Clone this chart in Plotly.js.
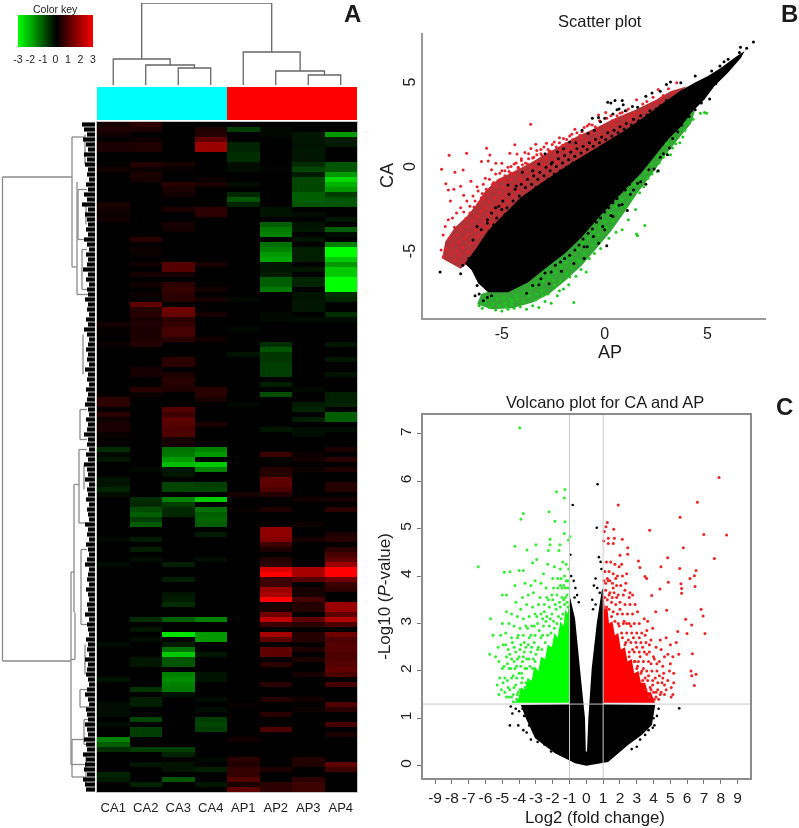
<!DOCTYPE html>
<html><head><meta charset="utf-8">
<script src="https://cdn.plot.ly/plotly-3.0.1.min.js"></script>
<style>html,body{margin:0;background:#fff}#chart{width:799px;height:828px;filter:blur(.45px)}</style>
</head><body><div id="chart"></div>
<script>
// ---- Panel A: heat map values, given as row,value pairs (rows not listed are 0)
const samples=['CA1','CA2','CA3','CA4','AP1','AP2','AP3','AP4'];
const rowCount=134;
const ca1=[0,.5,1,.7,2,.4,3,.1,4,.6,5,.6,6,.1,9,.4,16,.6,17,.4,18,.3,19,.4,40,.4,41,.1,42,.1,44,.3,55,1,56,1,57,.1,58,.9,59,.3,60,.6,61,.6,62,.2,63,.1,64,.1,65,-1,66,-.2,67,-.5,71,-.4,72,-.4,73,-.8,74,-.3,83,-.2,88,-.3,104,-.3,111,-.4,116,-.3,117,-.3,118,-.3,120,-.3,123,-2,124,-1.6,125,-1,130,-.8,131,-.6];
const ca2=[0,1,1,.7,3,.3,4,.7,5,.7,8,.8,9,.3,10,.6,11,.5,23,.9,25,.3,26,.2,28,.4,30,.5,32,.4,34,.3,36,1.6,37,.8,38,.8,39,.6,40,.7,41,.6,42,.6,43,.7,44,.8,49,.5,50,.5,53,.9,54,.3,69,-.2,75,-1,76,-.9,77,-1.4,78,-1.6,79,-1.2,80,-1.6,83,-.6,85,-.7,87,-.3,99,-1,101,-.5,103,-.3,107,-.5,108,-.5,113,-1.1,115,-.7,116,-.7,119,-1.3,121,-1.2,122,-1.2,125,-1.2,128,-.5,132,-.8];
const ca3=[8,.5,9,.2,12,.9,13,.6,14,.4,17,.6,20,.5,21,.4,28,1.5,29,1.5,30,.5,32,1,33,1.1,34,1,35,.9,37,1.8,38,1.7,39,1,40,1.1,41,1.3,42,1.3,43,.9,47,1,48,1,50,.6,51,.9,52,.8,53,.7,57,1.5,58,1.2,59,1.6,60,1.5,61,1.4,62,1.4,63,.5,64,.5,65,-1.8,66,-1.9,67,-2.2,68,-2.5,69,-.5,70,-.5,72,-1.3,73,-1.3,75,-2,76,-1.2,77,-.9,78,-.9,88,-.7,91,-.7,94,-.5,95,-.6,96,-1,99,-1.6,102,-2.8,104,-.6,105,-1.8,106,-2.6,107,-1.5,108,-1.5,110,-2,111,-2.1,112,-2,113,-1.9,114,-.4,125,-1.2,126,-.8,128,-.4,129,-.4,131,-1.5];
const ca4=[1,.7,2,.8,3,1.6,4,2.2,5,2.2,11,.3,12,.6,17,1,18,1,28,.5,33,.4,35,.5,38,.5,43,.4,53,.9,54,.9,55,.5,60,.6,65,-2,66,-2.2,68,-2.6,69,-2,72,-1.2,73,-1.3,75,-2.6,77,-1.8,78,-1.6,79,-1.7,80,-1.6,82,-.6,87,-.3,99,-2,102,-2.2,103,-2.2,106,-.5,110,-.4,111,-.4,115,-.3,117,-.3,119,-1.2,120,-1.3,121,-1.2,127,-.2,129,-.7,132,-.5];
const ap1=[1,-1.2,4,-.8,5,-.8,6,-1,7,-1,8,-.3,9,-.3,12,-.3,14,-.9,15,-1.5,16,-.8,35,-.2,41,-.2,46,-.4,56,-.2,74,.5,77,.2,116,.2,123,.4,127,1,128,.7,129,1.1,130,1.1,131,1.5,132,.6,133,1.6];
const ap2=[1,-.2,2,-.2,9,-.1,17,-.4,18,-.4,20,-1.6,21,-1.9,22,-2,24,-1.8,25,-2,26,-2.2,27,-2.3,28,-.5,29,-.5,30,-.6,31,-1.6,32,-1.6,33,-1.9,38,-.2,39,-.2,44,-1,45,-1.5,46,-1.1,47,-1.1,48,-1.2,49,-1.2,50,-1.2,52,-.7,54,-1.4,61,-.5,66,1.2,69,.8,70,.8,71,1.6,72,1.6,73,1.4,74,.8,77,.7,81,2.1,82,2.1,83,2,84,1.2,85,.6,87,.8,88,1,89,2.7,90,3,91,1.2,92,1.2,93,2.2,94,2.3,95,3,96,.5,97,.5,98,1.8,99,2.5,100,1.2,102,2.3,103,1.6,105,1.6,106,1.6,108,1,112,.9,115,.8,118,.9,121,1.4,129,.7,132,1,133,1];
const ap3=[2,-.5,3,-.5,4,-.4,5,-.5,6,-.5,7,-.5,8,-1,9,-1.3,10,-.6,11,-1.3,12,-1.3,13,-1.3,14,-1.6,15,-1.6,16,-1.5,18,-.3,20,-.4,21,-.5,23,-.4,25,-.7,26,-.7,27,-.7,29,-.5,31,-.8,32,-.8,34,-.4,35,-.4,36,-.5,37,-.5,39,-.3,53,-.2,56,-.6,57,-.8,59,-.7,61,-.3,62,-.3,66,.3,67,.4,69,.3,75,.4,80,.3,83,.5,89,2.3,90,2.3,91,1.5,93,.5,94,.5,95,1.3,96,.8,97,.8,99,1.6,100,1,102,.8,103,.8,105,.7,107,.6,110,.5,115,.4,117,.3,127,.8,128,.7,131,1,132,1.2,133,1.2];
const ap4=[2,-2.2,3,-.6,4,-.6,8,-1.5,9,-1.5,10,-2.2,11,-2.7,12,-2.4,13,-2.2,14,-1.2,15,-1.5,16,-1.5,19,-.5,21,-1.6,22,-.3,24,-2,25,-3,26,-3,27,-2.6,28,-2.2,29,-2.6,30,-2.6,31,-3,32,-3,33,-3,34,-1,35,-.8,38,-1,39,-.3,44,-.5,47,-.5,50,-.4,54,-.7,55,-.7,56,-.8,58,-1.6,59,-1.6,61,-.3,65,.6,67,.9,69,.7,72,.8,73,.8,75,.5,77,1,82,.7,83,.9,85,1,86,1.3,87,1.6,88,2.2,89,3,90,3,91,1.8,92,1.2,93,1,96,2.2,97,2.2,98,1.6,99,2.4,100,1.4,102,1.8,103,1.4,104,1.5,105,1.5,106,1.4,107,1.4,108,1.5,109,1.6,110,1.4,112,1.3,116,1.4,117,.9,120,1.3,122,.6,128,1.6,129,1.2];
const heatColumns=[ca1,ca2,ca3,ca4,ap1,ap2,ap3,ap4];
const keyLevels=[-3,-2.5,-2,-1.5,-1,-.5,0,.5,1,1.5,2,2.5,3];
const keyTicks=[-3,-2,-1,0,1,2,3];
const groupCodes=[0,0,0,0,1,1,1,1];
const colMerges=[[2,3,17,0,0],[1,2.5,20,0,17],[0,1.75,26,0,20],[6,7,10,0,0],[5,6.5,14,0,10],[4,5.75,33,0,14],[.875,4.875,82,26,33]];
const rowVerticals=[[92.5,10.5,107.3],[23,2.5,28.5],[18,11.5,34],[24,89.5,128],[20,97.7,107],[21,72,97.5],[16,65,79.7],[14,85,100],[15,113,116.5],[23,123,130.5],[17,13,23],[15,57,63],[13,25,33],[10,2,8],[9,16,20],[12,42,50],[11,68,73],[10,104,110],[11,119,124],[9,126,132]];
const rowHorizontals=[[10.5,92.5,23],[107.3,92.5,24],[2.5,23,10],[28.5,23,18],[34,18,5],[89.5,24,21],[97.5,21,20],[107,24,20],[128,24,9],[72,21,16],[65,16,8],[79.7,16,8],[85,14,8],[100,14,8],[57,15,8],[63,15,8],[13,17,8],[23,17,8],[25,13,8],[33,13,8],[113,15,6],[116.5,15,6],[123,23,11],[130.5,23,9],[119,11,6],[124,11,6]];
const leafReach=[13,11,8,12,9,7,11,8,10,7,8,6,9,7,11,8,13,7,10,8,7,9,7,11,8,6,9,7,8,12,7,9,6,8,7,10,7,8,6,9,7,11,8,6,7,9,7,8,6,10,7,8,6,9,7,8,10,7,6,9,7,8,11,7,8,6,9,7,11,8,7,10,6,8,7,9,6,8,7,6,10,7,8,6,9,7,6,8,10,6,7,8,6,9,7,6,8,7,10,6,8,7,6,9,7,8,6,10,7,8,9,7,6,8,10,7,6,9,8,7,10,8,7,11,9,8,12,9,10,11,8,12,10,9];

// ---- Panel B: scatter plot
const cloudX=[-6.8,-6.3,-5.7,-4.9,-4.1,-3.3,-2.5,-1.7,-.87,0,1,2,2.9,3.7,4.37,5.02,5.66,6.31,6.8,6.63,5.99,5.34,4.85,4.21,3.72,3.07,2.43,1.78,1.13,.49,-.16,-1.13,-1.94,-2.75,-3.72,-4.69,-5.66,-6.15,-6.47];
const cloudY=[-5.6,-4.8,-3.7,-2.7,-1.7,-1,-.35,.3,.9,1.55,2.3,3.15,3.95,4.65,5.11,5.5,6,6.59,6.99,6.59,5.7,4.91,4.12,3.33,2.53,1.74,.75,-.24,-1.03,-1.85,-2.7,-4.05,-5,-5.75,-6.7,-7.3,-7.3,-6.77,-5.98];
const redBandX=[-7.9,-7.75,-7.3,-6.7,-6.3,-5.8,-5.2,-4.5,-3.7,-3,-2.2,-1.4,-.5,.5,1.5,2.5,3.2,4,-6.6,-7];
const redBandY=[-5.3,-4.3,-3.5,-2.8,-2.2,-1.3,-.6,-.2,.3,.8,1.35,1.9,2.4,3,3.5,4.1,4.6,4.9,-5.5,-5.9];
const greenBandX=[-6.2,-5.5,-4.5,-3.5,-2.7,-1.9,-1.1,-.4,.3,1,1.6,2.3,3,3.6,4.2,4.4,3,-5,-6];
const greenBandY=[-8,-8.3,-8.25,-7.9,-7.4,-6.6,-5.7,-4.7,-3.7,-2.5,-1.4,-.3,.9,1.8,2.7,3.5,2.5,-7,-7.4];
const scatterRed=[-7.56,.81,-6.71,.93,-5.74,1.23,-5.58,.83,-4.37,1.44,-7.93,-.02,-7.28,-.2,-6.88,-.06,-5.99,.44,-5.66,.48,-5.29,.34,-5,.34,-4.61,.93,-4.26,.89,-3.88,.97,-3.59,1.22,-3.35,1.46,-2.83,1.52,-3.6,2.65,-7.72,-.88,-7.33,-1.2,-7.6,-1.25,-7,-1.02,-6.5,-.72,-6.85,-1.55,-7.5,-1.9,-6.2,-1.05,-5.8,-.55,-5.95,-1.45,-5.5,-.05,-5.1,-.25,-4.85,-.1,-4.55,.15,-4.3,.35,-4.05,.5,-3.7,.6,-3.3,.85,-3.1,1.15,-2.7,1,-2.45,1.6,-2.2,1.85,-2.05,1.4,-1.7,1.95,-1.45,2.35,-1.2,2,-1,2.45,-.75,2.65,-.45,2.5,-.3,3.2,.05,3.35,.35,2.85,.6,3.15,.85,3.35,1.15,3.55,1.3,3.15,1.55,4.1,1.85,3.85,2.05,4,2.35,4.25,2.6,4.7,3.1,4.75,3.5,5.1,3.3,4.55,2.85,4.35,
-7.85,-5.2,-7.7,-4.75,-7.55,-4.1,-7.45,-5,-7.4,-4.5,-7.3,-3.45,-7.25,-5.4,-7.2,-4.85,-7.15,-3.9,-7.1,-4.3,-7.05,-5.1,-6.95,-3.55,-6.9,-4.65,-6.85,-5.6,-6.8,-4.1,-6.75,-2.95,-6.7,-3.4,-6.65,-4.9,-6.6,-3.85,-6.55,-2.6,-6.5,-4.4,-6.45,-3.1,-6.4,-5.2,-6.35,-2.25,-6.3,-3.6,-6.25,-4.7,-6.2,-2.8,-6.15,-4,-6.1,-2,-6.05,-3.3,-6,-2.5,-5.95,-3.75,-5.9,-1.8,-5.85,-3,-5.8,-2.3,-5.75,-3.45,-5.7,-1.5,-5.65,-2.7,-5.6,-1.95,-5.55,-3.15,-5.5,-1.2,-5.45,-2.4,-5.4,-.8,-5.35,-1.7,-5.3,-2.85,-5.25,-1,-5.2,-2.1,-5.15,-1.4,-5.1,-2.6,-5.05,-.6,-5,-1.75,-4.95,-1.1,-4.9,-2.2,-4.85,-.4,-4.8,-1.45,-4.75,-.85,-4.7,-1.9,-4.65,-.15,-4.6,-1.2,-4.55,-.6,-4.5,-1.6,-4.4,-.3,-4.35,-.95,-4.25,-1.3,-4.2,.05,-4.1,-.6,-4,.25,-3.95,-.85,-3.85,-.2,-3.75,.3,-3.65,-.5,-3.55,.1,-3.45,.7,-3.35,-.25,-3.25,.4,-3.15,.05,-3.05,.8,-2.95,.3,-2.85,.6,-2.75,.1,-2.65,1.05,-2.55,.55,-2.4,.9,-2.3,.4,-2.15,1.15,-2,.8,-1.9,1.5,-1.8,1.05,-1.65,1.3,-1.55,1.75,-1.4,1.1,-1.3,1.6,-1.15,1.85,-1.05,1.4,-.9,1.75,-.7,2.1,-.55,1.7,-.35,2.3,-.2,2,0,2.55,.2,2.35,.4,2.6,.6,2.9,.8,2.6,1,3.1,1.25,2.95,1.45,3.3,1.7,3.3,1.95,3.5,2.2,3.75,2.5,3.95,2.75,4.2,
-7.95,-4.8,-7.85,-3.9,-7.75,-3.4,-7.6,-3,-7.4,-2.9,-7.2,-2.6,-7,-2.3,-6.85,-2.55,-6.7,-1.9,-6.55,-2.2,-6.4,-1.6,-6.3,-1.9,-6.15,-1.3,-6,-1.7,-5.9,-.9,-5.75,-1.2,-5.6,-.6,-5.45,-.9,-5.3,-.3,-5.15,-.7,-5,-.1,-4.85,-.6,-4.7,.1,-4.55,-.25,-4.4,.3,-4.2,.1,-4.05,.6,-3.85,.35,-3.7,.9,-3.5,.65,-3.3,1.1,-3.1,.9,-2.95,1.3,-2.75,1.15,-2.55,1.45,-2.35,1.3,-2.2,1.55,-2,1.8,-1.85,1.75,-1.6,2.05,-1.35,2.15,-1.1,2.2,-.85,2.55,-.6,2.6,-.25,2.85,.1,3,.3,3.15,.75,3.3,1.05,3.45];
const scatterGreen=[-6.1,-8.1,-5.95,-8.25,-5.8,-7.9,-5.6,-8.2,-5.45,-8,-5.3,-8.35,-5.1,-8.1,-5,-8.4,-4.85,-7.95,-4.7,-8.3,-4.55,-8,-4.4,-8.25,-4.25,-7.7,-4.1,-8.15,-3.95,-7.85,-3.8,-8.3,-3.65,-7.5,-3.5,-8.1,-3.35,-7.75,-3.2,-8.2,-3.05,-7.2,-2.9,-7.85,-2.75,-7.4,-2.6,-7.95,-2.45,-6.9,-2.3,-7.5,-2.15,-6.6,-2,-7.1,-1.85,-6.2,-1.75,-6.85,-1.6,-5.85,-1.5,-7.9,-1.4,-6.35,-1.3,-5.4,-1.15,-5.95,-1,-5,-.9,-6.1,-.75,-5.3,-.6,-4.5,-.5,-5,-.3,-3.9,-.2,-4.7,.1,-3.5,.2,-4.1,.4,-3.1,.55,-3.75,.7,-2.6,.85,-3.6,1,-2.2,1.15,-3,1.3,-1.75,1.55,-3.85,1.6,-3.95,1.95,-3.35,1.5,-2.4,1.7,-1.4,1.9,-1.05,2.1,-.55,2.3,-.3,2.55,-.15,2.65,.35,2.85,.7,3,.95,3.2,.85,3.05,1.5,3.3,1.25,3.45,1.5,3.65,1.55,3.8,1.9,3.9,2.3,4.05,2.75,4.3,2.95,4.65,3.3,4.85,3.35,4.95,3.3,
-5.5,-7.6,-5.2,-7.7,-4.9,-7.6,-4.6,-7.7,-4.3,-7.5,-3.9,-7.3,-3.6,-7.05,-3.3,-6.8,-3,-6.65,-2.7,-6.4,-2.4,-6.1,-2.1,-5.8,-1.9,-5.55,-1.6,-5.25,-1.3,-4.75,-1.05,-4.4,-.8,-4.1,-.55,-3.7,-.25,-3.4,0,-3.1,.3,-2.6,.55,-2.2,.85,-1.8,1.15,-1.4,1.45,-.9,1.7,-.55,2,-.2,2.3,.3,2.6,.75,-4.8,-8.15,-4.5,-7.85,-3.3,-7.4,-3,-7.5,-2.2,-7.2,-2.5,-6.6,-1.7,-6.4,-1.2,-5.5,-.4,-4.35];
const scatterBlack=[-8,-6.1,-7,-6.2,-6.9,-5.7,-6.6,-5.3,-6.3,-6.1,-6.2,-6.9,-6.3,-7.5,-6.1,-7.4,-5.9,-7.8,-5.7,-7.6,-5.5,-7.5,-6,-6.5,-6.45,-5.85,-6.2,-3.4,-5.7,-3,-5.3,-2.3,-5,-2.4,-4.7,-.95,-4.3,-1,-4,-.2,-3.5,-.1,-3.2,.3,-2.9,.9,-2.6,.3,-2.3,1,-2,1.2,-1.7,1.6,-1.4,1.55,-1.1,2.3,-.8,2.1,-.5,2.3,-.6,3,-.3,3.05,0,3,.15,3.95,.3,3.9,.5,4.05,.6,3.5,.7,3.55,.85,4.05,.9,3.8,.4,3.25,-.2,2.8,1,3.45,1.35,3.7,1.6,3.65,2,4.3,2.3,4.5,2.7,4.6,3,5,3.2,5.15,3.7,5.1,4.4,5.5,4.8,5.2,5.2,5.8,5.4,5.05,5.5,5.6,5,4.85,5.1,4.15,4.8,4.4,4.3,4.3,5.6,6.1,5.8,6.35,6,6.5,6.55,6.9,6.6,7.2,6.9,7.15,7.23,7.52,-3.8,-7.35,-3.2,-6.85,-2.7,-6.8,-2.1,-6.05,-1.5,-5.6,-1,-5.3,-.85,-4.6,-.3,-4.4,.1,-4.55,0,-3.6,.4,-2.8,.85,-2.1,1.1,-2.45,1.4,-1.25,1.75,-.75,2,-.9,2.4,0,2.6,-.1,2.85,.9,3.05,.85,3.3,1.8,3.55,2.2,3.75,2.6,4.1,3.1,4.4,3.5,4.7,3.9,
-6.4,-4.2,-6.2,-4.8,-6,-3.6,-5.9,-4.2,-5.7,-3.2,-5.6,-3.7,-5.5,-2.6,-5.4,-3.3,-5.25,-2.9,-5.15,-2.2,-5.05,-3,-4.95,-1.9,-4.85,-2.7,-4.75,-2.3,-4.65,-1.5,-4.55,-2.5,-4.45,-1.9,-4.35,-1.2,-4.25,-2.2,-4.15,-1.6,-4.05,-.9,-3.95,-1.7,-3.85,-1.1,-3.75,-.6,-3.65,-1.5,-3.55,-.9,-3.45,-.4,-3.35,-1.1,-3.25,-.6,-3.15,-.2,-3.05,-.9,-2.95,-.4,-2.85,.1,-2.75,-.6,-2.65,-.1,-2.55,.4,-2.45,-.3,-2.35,.15,-2.25,.6,-2.15,-.1,-2.05,.35,-1.95,.8,-1.85,.1,-1.75,.55,-1.65,1,-1.55,.35,-1.45,.75,-1.35,1.2,-1.25,.5,-1.15,.95,-1.05,1.35,-.95,.75,-.85,1.15,-.75,1.55,-.65,.95,-.55,1.35,-.45,1.75,-.35,1.15,-.25,1.55,-.15,1.9,-.05,1.35,.05,1.75,.15,2.15,.25,1.55,.35,1.95,.45,2.3,.55,1.8,.65,2.15,.75,2.5,.85,1.95,.95,2.35,1.05,2.7,1.2,2.2,1.3,2.6,1.4,2.95,1.55,2.45,1.65,2.85,1.75,3.15,1.9,2.8,2.05,3.2,2.2,3.45,2.35,3.15,2.5,3.55,2.7,3.75,2.85,3.6,3,4.05,
-3.5,-6.9,-3.1,-6.5,-2.9,-6.15,-2.6,-6.1,-2.4,-5.7,-2.15,-5.5,-1.95,-5.3,-1.7,-5.1,-1.45,-4.8,-1.25,-4.5,-1.05,-4.15,-.8,-3.8,-.6,-3.55,-.4,-3.15,-.2,-2.9,0,-2.55,.2,-2.3,.4,-2,.6,-1.75,.8,-1.35,1,-1.25,1.2,-.9,1.4,-.55,1.6,-.3,1.8,0,2,.25,2.2,.6,2.4,.95,2.6,1.25,2.8,1.45,3,1.75,3.2,2.1,3.4,2.4,3.6,2.7,-1,-4.6,-.55,-4,-.1,-3.4,.3,-2.75,.7,-2.15,1.25,-1.5,1.6,-.85,2.15,-.05,2.7,.7,3.15,1.25];
const scatterTicks=[-5,0,5];

// ---- Panel C: volcano plot
const volcanoTicksX=[-9,-8,-7,-6,-5,-4,-3,-2,-1,0,1,2,3,4,5,6,7,8,9];
const volcanoTicksY=[0,1,2,3,4,5,6,7];
const pThreshold=1.3;
const foldLines=[-1,1];
const blackAreaX=[-1,-.67,-.38,-.08,-.03,.04,.12,.32,.62,.92,1,1,4.1,3.9,3.3,2.5,1.3,0,-.67,-1.87,-3.05,-3.6,-3.9,-1];
const blackAreaY=[3.6,3.1,2.05,1,.3,.3,1,2.05,3,3.7,3.75,1.3,1.28,.86,.65,.44,.08,0,.05,.26,.58,1,1.28,1.3];
const greenAreaX=[-1,-1,-1.1,-1.25,-1.35,-1.55,-1.7,-1.9,-2.05,-2.3,-2.45,-2.7,-2.85,-3.1,-3.25,-3.5,-3.65,-3.9,-4.05,-4.3];
const greenAreaY=[1.33,3.6,3.2,3.3,2.95,3.05,2.7,2.8,2.5,2.55,2.25,2.3,2,2.1,1.8,1.85,1.6,1.65,1.4,1.33];
const redAreaX=[1,1,1.1,1.25,1.35,1.55,1.7,1.9,2.05,2.3,2.45,2.7,2.85,3.1,3.25,3.5,3.65,3.85,4,4.1];
const redAreaY=[1.33,3.7,3.3,3.35,3,3.05,2.75,2.8,2.45,2.5,2.2,2.25,1.95,2,1.75,1.75,1.55,1.55,1.4,1.33];
const volcanoGreen=[-3.97,7.13,-1.27,5.83,-1.77,5.78,-1.31,5.65,-2.22,5.36,-3.75,5.32,-3.89,5.2,-1.87,5.16,-1.27,5.15,-1.31,4.9,-.97,4.83,-4.25,4.63,-3,4.66,-3.53,4.55,-2.16,4.78,-2.16,4.66,-2.26,4.54,-1.57,4.66,-1.63,4.54,-1.07,4.76,-6.43,4.2,-4.88,4.08,-4.54,4.09,-4,4.12,-3.75,4.12,-2.95,4.35,-3.2,4.28,-1.4,4.3,-1.2,4.25,-1.05,4.15,-1.55,4.15,-1.9,4.2,-2.3,4.25,-2.55,4.05,-2,3.95,-1.7,3.95,-1.3,4,-1.1,3.9,-4.25,3.8,-3.65,3.85,-3.3,3.8,-3.05,3.9,-2.7,3.85,-2.4,3.75,-1.95,3.75,-1.55,3.8,-1.25,3.75,-5,3.6,-4.75,3.6,-3.8,3.55,-3.45,3.6,-3.15,3.65,-2.75,3.55,-2.35,3.55,-2.05,3.6,-1.75,3.6,-1.45,3.55,-1.15,3.6,-4.2,3.45,-3.9,3.3,-3.55,3.4,-3.2,3.35,-2.85,3.4,-2.5,3.4,-2.2,3.35,-1.85,3.4,-1.55,3.35,-1.3,3.4,-1.1,3.35,-4.75,3.25,-4.45,3.2,-4.1,3.15,-3.75,3.1,-3.4,3.15,-3.05,3.2,-2.7,3.2,-2.35,3.15,-2.05,3.2,-1.65,3.15,-1.4,3.2,-5.7,3.1,-5,3,-4.6,3,-4.3,2.95,-3.95,2.9,-3.6,2.95,-3.25,2.95,-2.9,3,-2.55,2.95,-2.2,2.95,-1.9,2.9,-5.55,2.75,-5.1,2.75,-4.8,2.8,-4.45,2.7,-4.1,2.7,-3.75,2.75,-3.4,2.7,-3.05,2.75,-2.7,2.7,-5.25,2.5,-4.95,2.55,-4.65,2.45,-4.3,2.5,-3.95,2.45,-3.6,2.5,-3.25,2.5,-2.9,2.45,-5.75,2.35,-5.4,2.3,-4.75,2.3,-4.45,2.25,-4.1,2.25,-3.75,2.3,-3.4,2.25,-3.05,2.2,-5.2,2.2,-5,2.05,-4.6,2.05,-4.25,2.05,-3.9,2.1,-3.55,2.05,-3.2,2.05,-5.15,1.85,-4.85,1.85,-4.45,1.85,-4.15,1.85,-3.8,1.85,-3.45,1.8,-5.3,1.7,-5.05,1.6,-4.65,1.65,-4.3,1.65,-3.95,1.6,-5.2,1.5,-4.75,1.45,-4.45,1.45,-4.15,1.4,-4.35,1.35,-4.05,1.55,-3.65,1.65,
-1.15,3.45,-1.2,3.05,-1.35,3.5,-1.5,3.1,-1.6,3.45,-1.75,3,-1.8,3.3,-1.95,3.05,-2,3.5,-2.1,2.8,-2.15,3.1,-2.3,2.75,-2.4,3.05,-2.45,2.6,-2.6,3.1,-2.6,2.75,-2.65,2.45,-2.8,2.85,-2.85,2.5,-2.95,3.15,-3,2.35,-3.1,2.6,-3.1,2.95,-3.15,2.25,-3.3,2.4,-3.3,2.75,-3.35,2.1,-3.45,2.55,-3.5,2.9,-3.55,2.25,-3.65,2.05,-3.7,2.6,-3.7,2.4,-3.8,2.2,-3.85,1.95,-3.9,2.55,-4,2.3,-4,1.95,-4.05,2.75,-4.15,2.1,-4.2,2.4,-4.2,1.7,-4.3,2.2,-4.35,1.9,-4.35,1.5,-4.4,2.6,-4.5,2.05,-4.55,1.6,-4.55,2.35,-4.6,1.45,-4.7,2.15,-4.7,1.8,-4.8,2.55,-4.85,1.55,-4.9,2.1,-4.95,1.75,-3.6,1.75,-3.85,1.75,-4.1,1.5,-2.25,3.5,-2.5,3.25,-1.45,3.75,-1.7,3.75,-1.25,3.55,-1.1,3.75,-1.2,3.9,-1.35,3.8,-1.5,3.95];
const volcanoRed=[7.9,6.08,6.61,5.56,5.58,5.24,1.9,5.5,8.35,4.87,6.99,4.88,5.77,4.6,4.84,4.39,7.62,4.37,3.77,4.97,4.44,4.2,6.53,4.12,5.56,4.16,6.43,4.01,6.17,3.95,5.63,3.84,4.88,3.87,6.47,3.78,5.67,3.74,5.67,3.64,4.38,3.73,3.89,3.59,6.83,3.3,6.95,3.16,7.06,2.79,5.91,3.09,6.27,2.97,5.99,2.79,5.44,2.83,4.78,3.28,4.13,3.25,6.31,2.36,6.23,2,6.53,1.93,6.27,1.9,6.43,1.69,1.25,5.13,1.17,5.04,1.63,4.99,1.07,4.94,1.31,4.8,1.67,4.8,2.14,4.78,1.03,4.74,1.31,4.69,1.6,4.69,2.46,4.6,2.46,4.46,2,4.44,3.1,4.32,3.19,4.18,3.49,3.99,3.59,3.95,1.2,4.3,1.45,4.3,1.7,4.25,1.95,4.2,2.1,4.25,1.1,4.1,1.35,4.1,1.6,4.05,1.85,4,2.15,4,2.4,4.05,1.05,3.9,1.3,3.9,1.55,3.85,1.8,3.8,2.05,3.8,2.35,3.85,1.15,3.7,1.4,3.65,1.65,3.65,1.9,3.6,2.2,3.6,2.55,3.55,2.75,3.6,1.25,3.5,1.5,3.45,1.75,3.4,2,3.45,2.3,3.4,2.6,3.4,2.9,3.4,1.35,3.3,1.6,3.25,1.85,3.2,2.15,3.2,2.45,3.2,2.75,3.2,3.05,3.25,1.9,3,2.25,3.05,2.55,3,2.85,3,3.15,3,3.45,3.1,3.65,3.05,2.1,2.8,2.4,2.8,2.7,2.8,3,2.8,3.3,2.8,3.6,2.85,3.95,2.9,2.35,2.6,2.65,2.6,2.95,2.6,3.25,2.6,3.55,2.6,3.85,2.65,4.4,2.65,4.75,2.7,5,2.55,5.35,2.6,2.55,2.4,2.85,2.4,3.15,2.4,3.45,2.4,3.75,2.4,4.15,2.5,4.45,2.45,4.85,2.35,5.15,2.3,5.5,2.35,2.85,2.2,3.1,2.2,3.4,2.2,3.7,2.2,4.05,2.25,4.35,2.2,4.65,2.3,5,2.15,3,2.05,3.3,2,3.6,2,3.9,2,4.2,2,4.6,1.95,4.95,2,3.35,1.8,3.65,1.8,3.95,1.8,4.25,1.75,4.55,1.85,4.85,1.8,5.2,1.95,3.55,1.6,3.85,1.6,4.15,1.55,4.45,1.55,4.75,1.6,5.2,1.75,3.75,1.45,4.05,1.4,4.3,1.4,4.65,1.5,5.05,1.65,5.05,1.45,5.15,1.5,
1.1,3.55,1.2,3.35,1.35,3.6,1.5,3.15,1.55,3.55,1.7,3.05,1.8,3.55,1.95,2.95,2,3.3,2.15,2.7,2.2,3,2.3,2.55,2.4,3,2.5,2.65,2.55,2.3,2.65,2.95,2.75,2.45,2.8,2.7,2.9,2.2,3,2.5,3.05,2.1,3.15,2.7,3.2,2.3,3.25,1.95,3.35,2.5,3.4,2.05,3.5,2.75,3.5,1.85,3.6,2.35,3.7,1.9,3.75,2.55,3.8,1.65,3.85,2.15,3.95,1.7,4,2.3,4,1.55,4.1,1.85,4.15,1.45,4.2,2.15,4.25,1.6,4.35,1.9,4.4,1.5,4.5,1.75,4.55,2.1,4.65,1.7,2.6,3.65,2.3,3.7,1.6,3.75,1.75,3.95,1.4,3.9,1.25,3.95,1.15,3.85];
const volcanoBlack=[.67,5.94,-.81,5.5,.62,5.02,5.53,1.21,-.95,4.45,-.9,4,-.75,3.9,-.65,3.75,-.55,3.6,-.7,3.55,-.45,3.45,.75,4.4,.85,4.3,.9,4.15,.55,3.95,.45,3.8,.65,3.75,.8,3.65,.35,3.5,.55,3.4,.4,3.3,-4.5,1.25,-4.2,1.2,-4.4,1.1,-4,1.15,-3.8,1.2,-3.7,1.05,-4.55,.85,-4.05,.85,-3.75,.75,-3.55,.7,-3.4,.85,-3.3,.55,-2.9,.5,-2.5,.45,-2.1,.3,4.3,1.2,4.2,1.05,4,1,3.95,.8,4.05,.85,3.7,.75,3.5,.65,3.2,.55,3,.4,2.7,.35];

// ---- page geometry
const W=799,H=828,FONT='"Liberation Sans",Arial,sans-serif';
const dx=(a,b)=>[a/W,b/W], dy=(t,b)=>[1-b/H,1-t/H];
const xs=f=>f.filter((_,i)=>i%2==0), ys=f=>f.filter((_,i)=>i%2==1);
const rdg=[[0,'#00ff00'],[.5,'#000000'],[1,'#ff0000']];
const heatScale=[[0,'#00ff00'],[.083,'#00be00'],[.167,'#008200'],[.25,'#005500'],[.333,'#002d00'],[.5,'#000000'],[.667,'#2d0000'],[.75,'#550000'],[.833,'#820000'],[.917,'#be0000'],[1,'#ff0000']];

const z=[];
for(let r=0;r<rowCount;r++)z.push(samples.map(()=>0));
heatColumns.forEach((c,j)=>{for(let i=0;i<c.length;i+=2)z[c[i]][j]=c[i+1];});
const rowIdx=z.map((_,i)=>i);

const cx=[],cy=[];
colMerges.forEach(m=>{cx.push(m[0],m[0],m[1],m[1],null);cy.push(m[3],m[2],m[2],m[4],null);});
const rx=[],ry=[];
rowVerticals.forEach(v=>{rx.push(v[0],v[0],null);ry.push(v[1],v[2],null);});
rowHorizontals.forEach(h=>{rx.push(h[1],h[2],null);ry.push(h[0],h[0],null);});
const lx=[],ly=[];
leafReach.forEach((h,i)=>{lx.push(0,h,null);ly.push(i,i,null);});

const pts=(f,col,xa,ya,size)=>({type:'scatter',mode:'markers',x:xs(f),y:ys(f),xaxis:xa,yaxis:ya,hoverinfo:'skip',
  marker:{color:col,size:size,line:{width:0}}});
const poly=(x,y,col,xa,ya)=>({type:'scatter',mode:'lines',x:x,y:y,xaxis:xa,yaxis:ya,fill:'toself',fillcolor:col,line:{width:0,color:col,simplify:false},hoverinfo:'skip'});

const traces=[
 {type:'heatmap',x:samples,y:rowIdx,z:z,zmin:-3,zmax:3,colorscale:heatScale,showscale:false,xaxis:'x',yaxis:'y',hoverinfo:'skip'},
 {type:'scatter',mode:'lines',x:cx,y:cy,xaxis:'x2',yaxis:'y2',line:{color:'#666',width:1.3},hoverinfo:'skip'},
 {type:'heatmap',x:samples,y:['group'],z:[groupCodes],zmin:0,zmax:1,colorscale:[[0,'#00ffff'],[1,'#ff0000']],showscale:false,xaxis:'x3',yaxis:'y3',hoverinfo:'skip'},
 {type:'heatmap',x:keyLevels,y:[0,1],z:[keyLevels,keyLevels],zmin:-3,zmax:3,zsmooth:'best',colorscale:rdg,showscale:false,xaxis:'x4',yaxis:'y4',hoverinfo:'skip'},
 {type:'scatter',mode:'lines',x:rx,y:ry,xaxis:'x5',yaxis:'y5',line:{color:'#8a8a8a',width:1.3},hoverinfo:'skip'},
 {type:'scatter',mode:'lines',x:lx,y:ly,xaxis:'x5',yaxis:'y5',line:{color:'#000',width:4.2},hoverinfo:'skip'},
 poly(redBandX,redBandY,'rgba(165,15,20,.85)','x6','y6'),
 poly(greenBandX,greenBandY,'rgba(15,150,15,.85)','x6','y6'),
 pts(scatterRed,'#e8202a','x6','y6',3),
 pts(scatterGreen,'#1fc81f','x6','y6',3),
 poly(cloudX,cloudY,'#000','x6','y6'),
 pts(scatterBlack,'#000','x6','y6',3),
 poly(greenAreaX,greenAreaY,'#00ff00','x7','y7'),
 poly(redAreaX,redAreaY,'#ff0000','x7','y7'),
 poly(blackAreaX,blackAreaY,'#000','x7','y7'),
 pts(volcanoGreen,'#33ee33','x7','y7',3),
 pts(volcanoRed,'#ee2222','x7','y7',3),
 pts(volcanoBlack,'#000','x7','y7',2.6)
];
const hidden={showgrid:false,zeroline:false,showticklabels:false,ticks:'',showline:false,fixedrange:true};
const vlines=foldLines.map(v=>({type:'line',xref:'x7',yref:'paper',x0:v,x1:v,y0:dy(415,778)[0],y1:dy(415,778)[1],line:{color:'#c8c8c8',width:1},layer:'above'}));
const note=(text,x,y,size)=>({text:text,x:x/W,y:1-y/H,xref:'paper',yref:'paper',xanchor:'center',yanchor:'middle',showarrow:false,font:{size:size,color:'#1a1a1a'}});
const layout={
 width:W,height:H,margin:{l:0,r:0,t:0,b:0},paper_bgcolor:'#fff',plot_bgcolor:'#fff',showlegend:false,
 font:{family:FONT,color:'#1a1a1a'},
 xaxis:{domain:dx(97,357),anchor:'y',type:'category',showgrid:false,zeroline:false,ticks:'outside',ticklen:3,tickcolor:'#fff',tickfont:{size:13,color:'#222'},showline:true,mirror:true,linecolor:'#c4c4c4',linewidth:1,fixedrange:true},
 yaxis:{domain:dy(122,792),anchor:'x',autorange:false,range:[133.5,-.5],...hidden,showline:true,mirror:true,linecolor:'#c4c4c4',linewidth:1},
 xaxis2:{domain:dx(97,357),anchor:'y2',range:[-.5,7.5],...hidden},
 yaxis2:{domain:dy(3,85),anchor:'x2',range:[0,82],...hidden},
 xaxis3:{domain:dx(97,357),anchor:'y3',type:'category',...hidden},
 yaxis3:{domain:dy(87,120),anchor:'x3',type:'category',...hidden},
 xaxis4:{domain:dx(18,93),anchor:'y4',range:[-3,3],showgrid:false,zeroline:false,ticks:'outside',ticklen:2,tickcolor:'#fff',tickmode:'array',tickvals:keyTicks,ticktext:keyTicks.map(String),tickangle:0,tickfont:{size:10.5,color:'#222'},fixedrange:true},
 yaxis4:{domain:dy(15,47),anchor:'x4',range:[0,1],...hidden},
 xaxis5:{domain:dx(0,95),anchor:'y5',range:[95,0],...hidden},
 yaxis5:{domain:dy(122,792),anchor:'x5',range:[133.5,-.5],...hidden},
 xaxis6:{domain:dx(423,766),anchor:'y6',range:[-8.83,7.84],showgrid:false,zeroline:false,showline:true,linecolor:'#999',linewidth:2,ticks:'',tickmode:'array',tickvals:scatterTicks,ticktext:['-5','0','5'],tickangle:0,tickfont:{size:16,color:'#222'},fixedrange:true},
 yaxis6:{domain:dy(33,318),anchor:'x6',range:[-8.82,8.05],showgrid:false,zeroline:false,showline:true,linecolor:'#999',linewidth:2,ticks:'',tickmode:'array',tickvals:scatterTicks,ticktext:['-5','0','5'],tickangle:-90,tickfont:{size:16,color:'#222'},title:{text:'CA',font:{size:18,color:'#222'},standoff:2},fixedrange:true},
 xaxis7:{domain:dx(423,750),anchor:'y7',range:[-9.72,9.74],showgrid:false,zeroline:false,showline:true,mirror:true,linecolor:'#8c8c8c',linewidth:2,ticks:'outside',ticklen:4,tickcolor:'#777',tickmode:'array',tickvals:volcanoTicksX,ticktext:volcanoTicksX.map(String),tickangle:0,tickfont:{size:15.5,color:'#222'},fixedrange:true},
 yaxis7:{domain:dy(415,778),anchor:'x7',range:[-.26,7.4],showgrid:false,zeroline:false,showline:true,mirror:true,linecolor:'#8c8c8c',linewidth:2,ticks:'outside',ticklen:4,tickcolor:'#777',tickmode:'array',tickvals:volcanoTicksY,ticktext:volcanoTicksY.map(String),tickangle:-90,tickfont:{size:15.5,color:'#222'},title:{text:'-Log10 (<i>P</i>-value)',font:{size:17,color:'#222'},standoff:2},fixedrange:true},
 shapes:[...vlines,{type:'line',xref:'paper',yref:'y7',x0:423/W,x1:750/W,y0:pThreshold,y1:pThreshold,line:{color:'#c8c8c8',width:1},layer:'above'}],
 annotations:[
  note('Color key',55,9,10.5),
  note('Scatter plot',600,21,16.5),
  note('AP',610,352,18),
  note('Volcano plot for CA and AP',605,402,16.5),
  note('Log2 (fold change)',595,817,16.8),
  note('<b>A</b>',352,14,24),
  note('<b>B</b>',789,14,24),
  note('<b>C</b>',784,407,24)
 ]
};
Plotly.newPlot('chart',traces,layout,{displayModeBar:false,staticPlot:true});
</script></body></html>
